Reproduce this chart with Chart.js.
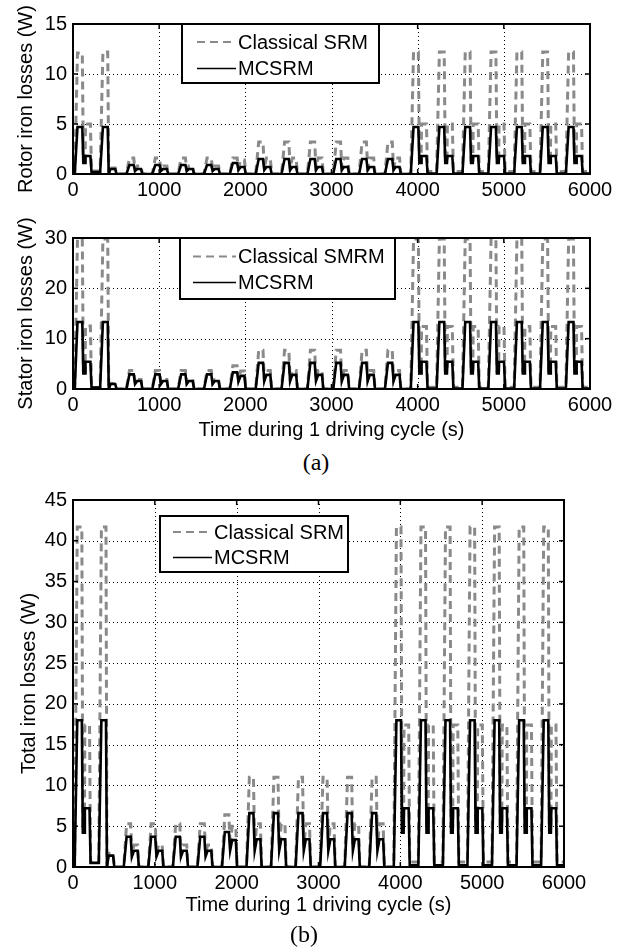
<!DOCTYPE html>
<html>
<head>
<meta charset="utf-8">
<script src="https://cdn.jsdelivr.net/npm/chart.js@4.4.1/dist/chart.umd.min.js"></script>
<style>
  body { margin: 0; background: #fff; width: 629px; height: 952px; position: relative; overflow: hidden; }
  canvas { position: absolute; left: 0; }
  .cap { position: absolute; font-family: "Liberation Serif", "Times New Roman", serif; font-size: 24px; transform: translate(-50%, -50%); }
</style>
</head>
<body>
<canvas id="rotorChart" width="629" height="200" style="top:0px"></canvas>
<canvas id="statorChart" width="629" height="245" style="top:200px"></canvas>
<div class="cap" style="left:316px; top:462px">(a)</div>
<canvas id="totalChart" width="629" height="482" style="top:470px"></canvas>
<div class="cap" style="left:304px; top:934px">(b)</div>
<script>
// time axis (s), shared by all curves
const timeS = [
  0, 20, 52, 108, 120, 140, 145, 202, 215, 315, 347, 403, 415, 435, 490, 505,
  620, 655, 705, 720, 745, 790, 805,
  920, 955, 1005, 1020, 1045, 1090, 1105,
  1220, 1255, 1305, 1320, 1345, 1390, 1405,
  1520, 1555, 1605, 1620, 1645, 1690, 1705,
  1820, 1855, 1905, 1920, 1945, 1990, 2005,
  2120, 2155, 2205, 2220, 2245, 2290, 2305,
  2420, 2455, 2505, 2520, 2545, 2590, 2605,
  2720, 2755, 2805, 2820, 2845, 2890, 2905,
  3020, 3055, 3105, 3120, 3145, 3190, 3205,
  3320, 3355, 3405, 3420, 3445, 3490, 3505,
  3620, 3655, 3705, 3720, 3745, 3790, 3805,
  3920, 3952, 4008, 4020, 4040, 4045, 4102, 4115,
  4220, 4252, 4308, 4320, 4340, 4345, 4402, 4415,
  4520, 4552, 4608, 4620, 4640, 4645, 4702, 4715,
  4820, 4852, 4908, 4920, 4940, 4945, 5002, 5015,
  5120, 5152, 5208, 5220, 5240, 5245, 5302, 5315,
  5420, 5452, 5508, 5520, 5540, 5545, 5602, 5615,
  5720, 5752, 5808, 5820, 5840, 5845, 5902, 5915,
  6000
];

const rotorClassical = [
  0, 0, 12.1, 12.1, 1.4, 1.4, 5.0, 5.0, 0.3, 0.3, 12.2, 12.2, 0, 0.6, 0.6, 0,
  0, 1.6, 1.6, 0.4, 0.8, 0.8, 0,
  0, 1.6, 1.6, 0.4, 0.8, 0.8, 0,
  0, 1.6, 1.6, 0.4, 0.8, 0.8, 0,
  0, 1.6, 1.6, 0.4, 0.8, 0.8, 0,
  0, 1.6, 1.6, 0.6, 1.4, 1.4, 0,
  0, 3.2, 3.2, 0.6, 1.6, 1.6, 0,
  0, 3.2, 3.2, 0.6, 1.6, 1.6, 0,
  0, 3.2, 3.2, 0.6, 1.6, 1.6, 0,
  0, 3.2, 3.2, 0.6, 1.6, 1.6, 0,
  0, 3.2, 3.2, 0.6, 1.6, 1.6, 0,
  0, 3.2, 3.2, 0.6, 1.6, 1.6, 0,
  0, 12.2, 12.2, 1.4, 1.4, 5.0, 5.0, 0.25,
  0.25, 12.2, 12.2, 1.4, 1.4, 5.0, 5.0, 0.25,
  0.25, 12.2, 12.2, 1.4, 1.4, 5.0, 5.0, 0.25,
  0.25, 12.2, 12.2, 1.4, 1.4, 5.0, 5.0, 0.25,
  0.25, 12.2, 12.2, 1.4, 1.4, 5.0, 5.0, 0.25,
  0.25, 12.2, 12.2, 1.4, 1.4, 5.0, 5.0, 0.25,
  0.25, 12.2, 12.2, 1.4, 1.4, 5.0, 5.0, 0.25,
  0.25
];

const rotorMcsrm = [
  0, 0, 4.7, 4.7, 1.1, 1.1, 1.8, 1.8, 0.2, 0.2, 4.7, 4.7, 0, 0.5, 0.5, 0,
  0, 0.9, 0.9, 0.3, 0.5, 0.5, 0,
  0, 0.9, 0.9, 0.3, 0.5, 0.5, 0,
  0, 0.9, 0.9, 0.3, 0.5, 0.5, 0,
  0, 0.9, 0.9, 0.3, 0.5, 0.5, 0,
  0, 1.1, 1.1, 0.4, 0.7, 0.7, 0,
  0, 1.5, 1.5, 0.4, 0.7, 0.7, 0,
  0, 1.5, 1.5, 0.4, 0.7, 0.7, 0,
  0, 1.5, 1.5, 0.4, 0.7, 0.7, 0,
  0, 1.5, 1.5, 0.4, 0.7, 0.7, 0,
  0, 1.5, 1.5, 0.4, 0.7, 0.7, 0,
  0, 1.5, 1.5, 0.4, 0.7, 0.7, 0,
  0, 4.7, 4.7, 1.1, 1.1, 1.8, 1.8, 0.05,
  0.05, 4.7, 4.7, 1.1, 1.1, 1.8, 1.8, 0.05,
  0.05, 4.7, 4.7, 1.1, 1.1, 1.8, 1.8, 0.05,
  0.05, 4.7, 4.7, 1.1, 1.1, 1.8, 1.8, 0.05,
  0.05, 4.7, 4.7, 1.1, 1.1, 1.8, 1.8, 0.05,
  0.05, 4.7, 4.7, 1.1, 1.1, 1.8, 1.8, 0.05,
  0.05, 4.7, 4.7, 1.1, 1.1, 1.8, 1.8, 0.05,
  0.05
];

const statorClassical = [
  0, 0, 29.8, 29.8, 3.6, 3.6, 12.5, 12.5, 0.3, 0.3, 29.8, 29.8, 0, 1.1, 1.1, 0,
  0, 3.7, 3.7, 1.2, 1.9, 1.9, 0,
  0, 3.7, 3.7, 1.2, 1.9, 1.9, 0,
  0, 3.7, 3.7, 1.2, 1.9, 1.9, 0,
  0, 3.7, 3.7, 1.2, 1.9, 1.9, 0,
  0, 4.6, 4.6, 1.9, 3.6, 3.6, 0,
  0, 7.7, 7.7, 1.9, 3.7, 3.7, 0,
  0, 7.7, 7.7, 1.9, 3.7, 3.7, 0,
  0, 7.7, 7.7, 1.9, 3.7, 3.7, 0,
  0, 7.7, 7.7, 1.9, 3.7, 3.7, 0,
  0, 7.7, 7.7, 1.9, 3.7, 3.7, 0,
  0, 7.7, 7.7, 1.9, 3.7, 3.7, 0,
  0, 29.8, 29.8, 3.6, 3.6, 12.4, 12.4, 0.35,
  0.35, 29.8, 29.8, 3.6, 3.6, 12.4, 12.4, 0.35,
  0.35, 29.8, 29.8, 3.6, 3.6, 12.4, 12.4, 0.35,
  0.35, 29.8, 29.8, 3.6, 3.6, 12.4, 12.4, 0.35,
  0.35, 29.8, 29.8, 3.6, 3.6, 12.4, 12.4, 0.35,
  0.35, 29.8, 29.8, 3.6, 3.6, 12.4, 12.4, 0.35,
  0.35, 29.8, 29.8, 3.6, 3.6, 12.4, 12.4, 0.35,
  0.35
];

const statorMcsrm = [
  0, 0, 13.3, 13.3, 3.1, 3.1, 5.4, 5.4, 0.3, 0.3, 13.3, 13.3, 0, 1.0, 1.0, 0,
  0, 2.9, 2.9, 1.0, 1.6, 1.6, 0,
  0, 2.9, 2.9, 1.0, 1.6, 1.6, 0,
  0, 2.9, 2.9, 1.0, 1.6, 1.6, 0,
  0, 2.9, 2.9, 1.0, 1.6, 1.6, 0,
  0, 3.3, 3.3, 1.5, 2.6, 2.6, 0,
  0, 5.2, 5.2, 1.6, 2.8, 2.8, 0,
  0, 5.2, 5.2, 1.6, 2.8, 2.8, 0,
  0, 5.2, 5.2, 1.6, 2.8, 2.8, 0,
  0, 5.2, 5.2, 1.6, 2.8, 2.8, 0,
  0, 5.2, 5.2, 1.6, 2.8, 2.8, 0,
  0, 5.2, 5.2, 1.6, 2.8, 2.8, 0,
  0, 13.3, 13.3, 3.1, 3.1, 5.4, 5.4, 0.1,
  0.1, 13.3, 13.3, 3.1, 3.1, 5.4, 5.4, 0.1,
  0.1, 13.3, 13.3, 3.1, 3.1, 5.4, 5.4, 0.1,
  0.1, 13.3, 13.3, 3.1, 3.1, 5.4, 5.4, 0.1,
  0.1, 13.3, 13.3, 3.1, 3.1, 5.4, 5.4, 0.1,
  0.1, 13.3, 13.3, 3.1, 3.1, 5.4, 5.4, 0.1,
  0.1, 13.3, 13.3, 3.1, 3.1, 5.4, 5.4, 0.1,
  0.1
];

const totalClassical = [
  0, 0, 41.7, 41.7, 5.0, 5.0, 17.4, 17.4, 0.6, 0.6, 41.7, 41.7, 0, 1.7, 1.7, 0,
  0, 5.3, 5.3, 1.6, 2.7, 2.7, 0,
  0, 5.3, 5.3, 1.6, 2.7, 2.7, 0,
  0, 5.3, 5.3, 1.6, 2.7, 2.7, 0,
  0, 5.3, 5.3, 1.6, 2.7, 2.7, 0,
  0, 6.4, 6.4, 2.5, 5.0, 5.0, 0,
  0, 11.0, 11.0, 2.5, 5.3, 5.3, 0,
  0, 11.0, 11.0, 2.5, 5.3, 5.3, 0,
  0, 11.0, 11.0, 2.5, 5.3, 5.3, 0,
  0, 11.0, 11.0, 2.5, 5.3, 5.3, 0,
  0, 11.0, 11.0, 2.5, 5.3, 5.3, 0,
  0, 11.0, 11.0, 2.5, 5.3, 5.3, 0,
  0, 41.7, 41.7, 5.0, 5.0, 17.4, 17.4, 0.6,
  0.6, 41.7, 41.7, 5.0, 5.0, 17.4, 17.4, 0.6,
  0.6, 41.7, 41.7, 5.0, 5.0, 17.4, 17.4, 0.6,
  0.6, 41.7, 41.7, 5.0, 5.0, 17.4, 17.4, 0.6,
  0.6, 41.7, 41.7, 5.0, 5.0, 17.4, 17.4, 0.6,
  0.6, 41.7, 41.7, 5.0, 5.0, 17.4, 17.4, 0.6,
  0.6, 41.7, 41.7, 5.0, 5.0, 17.4, 17.4, 0.6,
  0.6
];

const totalMcsrm = [
  0, 0, 18.0, 18.0, 4.2, 4.2, 7.2, 7.2, 0.5, 0.5, 18.0, 18.0, 0, 1.4, 1.4, 0,
  0, 3.7, 3.7, 1.3, 2.0, 2.0, 0,
  0, 3.7, 3.7, 1.3, 2.0, 2.0, 0,
  0, 3.7, 3.7, 1.3, 2.0, 2.0, 0,
  0, 3.7, 3.7, 1.3, 2.0, 2.0, 0,
  0, 4.3, 4.3, 2.0, 3.3, 3.3, 0,
  0, 6.6, 6.6, 2.0, 3.4, 3.4, 0,
  0, 6.6, 6.6, 2.0, 3.4, 3.4, 0,
  0, 6.6, 6.6, 2.0, 3.4, 3.4, 0,
  0, 6.6, 6.6, 2.0, 3.4, 3.4, 0,
  0, 6.6, 6.6, 2.0, 3.4, 3.4, 0,
  0, 6.6, 6.6, 2.0, 3.4, 3.4, 0,
  0, 18.0, 18.0, 4.2, 4.2, 7.2, 7.2, 0.2,
  0.2, 18.0, 18.0, 4.2, 4.2, 7.2, 7.2, 0.2,
  0.2, 18.0, 18.0, 4.2, 4.2, 7.2, 7.2, 0.2,
  0.2, 18.0, 18.0, 4.2, 4.2, 7.2, 7.2, 0.2,
  0.2, 18.0, 18.0, 4.2, 4.2, 7.2, 7.2, 0.2,
  0.2, 18.0, 18.0, 4.2, 4.2, 7.2, 7.2, 0.2,
  0.2, 18.0, 18.0, 4.2, 4.2, 7.2, 7.2, 0.2,
  0.2
];

// tick labels
const xTicks = [0, 1000, 2000, 3000, 4000, 5000, 6000];
const rotorTicks = [0, 5, 10, 15];
const statorTicks = [0, 10, 20, 30];
const totalTicks = [0, 5, 10, 15, 20, 25, 30, 35, 40, 45];

const FONT = "'Liberation Sans', Arial, Helvetica, sans-serif";
const GRAY = "#8a8a8a";

function seg(ctx, x1, y1, x2, y2) {
  ctx.beginPath();
  ctx.moveTo(x1, y1);
  ctx.lineTo(x2, y2);
  ctx.stroke();
}

// matlab-like look: dotted grid, inward ticks, closed box, boxed legend
const matlabFrame = {
  id: "matlabFrame",
  beforeDatasetsDraw(chart) {
    const { ctx, chartArea: a, scales } = chart;
    ctx.save();
    ctx.strokeStyle = "#000";
    ctx.lineWidth = 1;
    ctx.setLineDash([1, 3]);
    scales.x.ticks.forEach(t => {
      const px = Math.round(scales.x.getPixelForValue(t.value)) + 0.5;
      if (px > a.left + 2 && px < a.right - 2) seg(ctx, px, a.top, px, a.bottom);
    });
    scales.y.ticks.forEach(t => {
      const py = Math.round(scales.y.getPixelForValue(t.value)) + 0.5;
      if (py > a.top + 2 && py < a.bottom - 2) seg(ctx, a.left, py, a.right, py);
    });
    ctx.restore();
  },
  afterDatasetsDraw(chart, args, opts) {
    const { ctx, chartArea: a, scales } = chart;
    ctx.save();
    ctx.strokeStyle = "#000";
    ctx.lineWidth = 1.5;
    scales.x.ticks.forEach(t => {
      const px = scales.x.getPixelForValue(t.value);
      seg(ctx, px, a.bottom, px, a.bottom - 5);
      seg(ctx, px, a.top, px, a.top + 5);
    });
    scales.y.ticks.forEach(t => {
      const py = scales.y.getPixelForValue(t.value);
      seg(ctx, a.left, py, a.left + 5, py);
      seg(ctx, a.right, py, a.right - 5, py);
    });
    ctx.lineWidth = 2;
    ctx.strokeRect(a.left, a.top, a.right - a.left, a.bottom - a.top);

    const L = opts.legend;
    ctx.fillStyle = "#fff";
    ctx.fillRect(L.x, L.y, L.w, L.h);
    ctx.lineWidth = 2;
    ctx.strokeRect(L.x, L.y, L.w, L.h);
    ctx.font = "20px " + FONT;
    ctx.textBaseline = "middle";
    chart.data.datasets.forEach((ds, i) => {
      const ry = L.rows[i];
      ctx.strokeStyle = ds.borderColor;
      ctx.lineWidth = ds.borderDash ? 2 : 1.6;
      ctx.setLineDash(ds.borderDash || []);
      seg(ctx, L.lineX1, ry, L.lineX2, ry);
      ctx.setLineDash([]);
      ctx.fillStyle = "#000";
      ctx.fillText(ds.label, L.textX, ry + 1);
    });
    ctx.restore();
  }
};

function makeChart(id, cfg) {
  const ctx = document.getElementById(id).getContext("2d");
  return new Chart(ctx, {
    type: "line",
    data: {
      datasets: [
        {
          label: cfg.classicalLabel,
          data: timeS.map((t, i) => ({ x: t, y: cfg.classical[i] })),
          borderColor: GRAY,
          borderWidth: 3,
          borderDash: [8, 5],
          pointRadius: 0,
          order: 1
        },
        {
          label: "MCSRM",
          data: timeS.map((t, i) => ({ x: t, y: cfg.mcsrm[i] })),
          borderColor: "#000",
          borderWidth: 2.6,
          pointRadius: 0,
          order: 0
        }
      ]
    },
    options: {
      responsive: false,
      animation: false,
      devicePixelRatio: 1,
      layout: { padding: { top: cfg.padTop, right: cfg.padRight, left: 0, bottom: 0 } },
      plugins: {
        legend: { display: false },
        tooltip: { enabled: false },
        matlabFrame: { legend: cfg.legend }
      },
      scales: {
        x: {
          type: "linear",
          min: 0,
          max: 6000,
          afterBuildTicks: s => { s.ticks = xTicks.map(v => ({ value: v })); },
          afterFit: s => { s.height = cfg.xAxisHeight; },
          grid: { display: false, drawTicks: false },
          border: { display: false },
          ticks: { color: "#000", padding: 4, font: { size: 20, family: FONT }, callback: v => String(v), maxRotation: 0 },
          title: {
            display: !!cfg.xTitle,
            text: cfg.xTitle || "",
            color: "#000",
            font: { size: 20, family: FONT },
            padding: { top: 0, bottom: cfg.xTitlePad || 0 }
          }
        },
        y: {
          min: 0,
          max: cfg.yTicks[cfg.yTicks.length - 1],
          afterBuildTicks: s => { s.ticks = cfg.yTicks.map(v => ({ value: v })); },
          afterFit: s => { s.width = 73; },
          grid: { display: false, drawTicks: false },
          border: { display: false },
          ticks: { color: "#000", padding: 6, font: { size: 20, family: FONT }, callback: v => String(v) },
          title: {
            display: true,
            text: cfg.yTitle,
            color: "#000",
            font: { size: 20, family: FONT },
            padding: { top: cfg.yTitlePad, bottom: 0 }
          }
        }
      }
    },
    plugins: [matlabFrame]
  });
}

makeChart("rotorChart", {
  classical: rotorClassical, mcsrm: rotorMcsrm, classicalLabel: "Classical SRM",
  yTicks: rotorTicks, yTitle: "Rotor iron losses (W)", yTitlePad: 14,
  padTop: 24, padRight: 39, xAxisHeight: 26,
  legend: { x: 182, y: 24, w: 197, h: 59, rows: [42, 68.5], lineX1: 197, lineX2: 236, textX: 238 }
});

makeChart("statorChart", {
  classical: statorClassical, mcsrm: statorMcsrm, classicalLabel: "Classical SMRM",
  yTicks: statorTicks, yTitle: "Stator iron losses (W)", yTitlePad: 14,
  padTop: 38, padRight: 39, xAxisHeight: 56,
  xTitle: "Time during 1 driving cycle (s)", xTitlePad: 3,
  legend: { x: 180, y: 38, w: 215, h: 61, rows: [56.5, 82.5], lineX1: 193, lineX2: 236, textX: 238 }
});

makeChart("totalChart", {
  classical: totalClassical, mcsrm: totalMcsrm, classicalLabel: "Classical SRM",
  yTicks: totalTicks, yTitle: "Total iron losses (W)", yTitlePad: 17,
  padTop: 30, padRight: 65, xAxisHeight: 85,
  xTitle: "Time during 1 driving cycle (s)", xTitlePad: 35,
  legend: { x: 160, y: 46, w: 188, h: 56, rows: [62, 87.5], lineX1: 173, lineX2: 212, textX: 214 }
});
</script>
</body>
</html>
